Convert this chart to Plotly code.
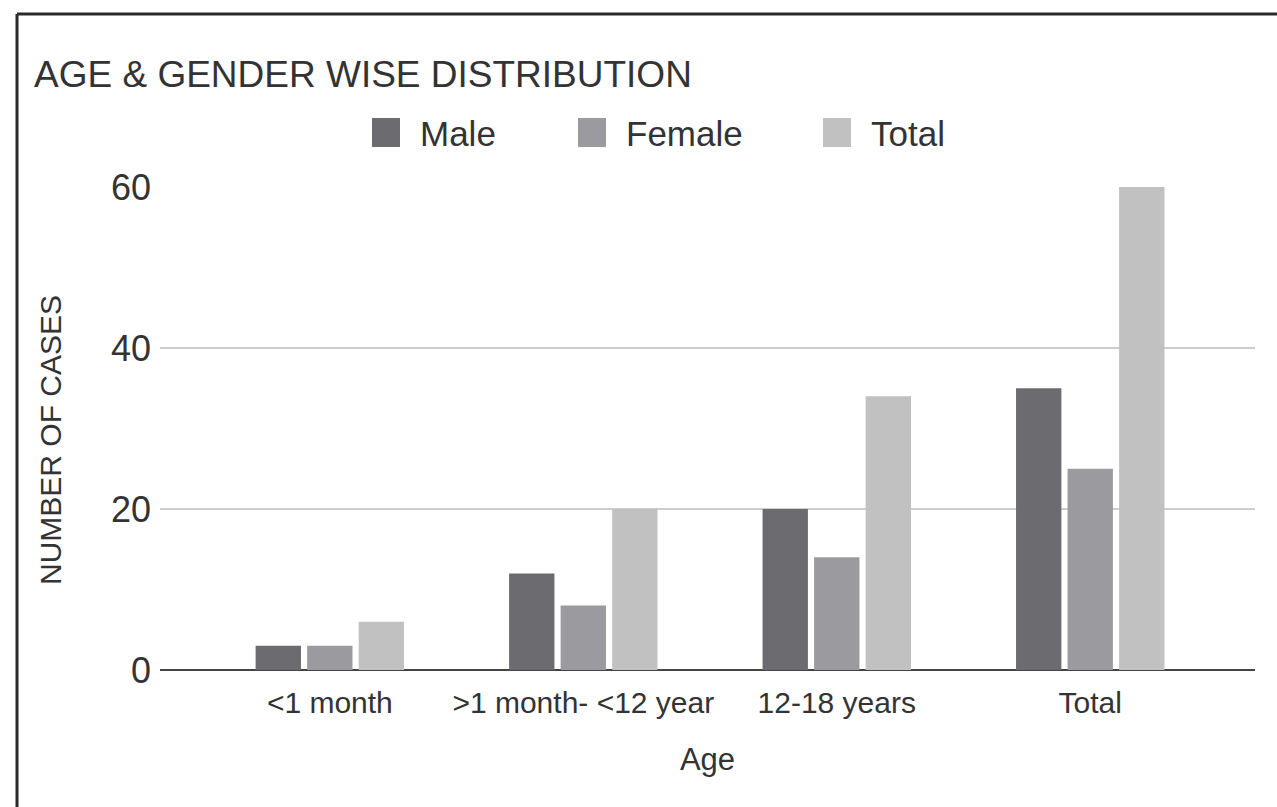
import plotly.graph_objects as go

# Age groups and case counts
categories = ["<1 month", ">1 month- <12 year", "12-18 years", "Total"]
male = [3, 12, 20, 35]
female = [3, 8, 14, 25]
total = [6, 20, 34, 60]

series_names = ["Male", "Female", "Total"]
series_values = [male, female, total]
series_colors = ["#6b6b70", "#9b9b9f", "#c1c1c1"]

y_ticks = [0, 20, 40, 60]

W, H = 1277, 807
ML, MR, MT, MB = 160, 22, 187, 137
PW, PH = W - ML - MR, H - MT - MB


def px_x(x):
    return (x - ML) / PW


def px_y(y):
    return 1 - (y - MT) / PH


FONT = "Liberation Sans, Arial, sans-serif"
TXT = "#333333"

fig = go.Figure()
for name, vals, col in zip(series_names, series_values, series_colors):
    fig.add_trace(go.Bar(x=categories, y=vals, name=name, marker_color=col,
                         marker_line_width=0, showlegend=False))

# Frame lines
shapes = [
    dict(type="line", xref="paper", yref="paper", x0=px_x(17), x1=px_x(W),
         y0=px_y(14), y1=px_y(14), line=dict(color="#2a2a2a", width=3)),
    dict(type="line", xref="paper", yref="paper", x0=px_x(17), x1=px_x(17),
         y0=px_y(14), y1=px_y(H), line=dict(color="#2a2a2a", width=3)),
]

# Legend row: swatch + label for each series
annotations = []
legend_swatch_x = [372, 578, 823]
for name, col, sx in zip(series_names, series_colors, legend_swatch_x):
    shapes.append(dict(type="rect", xref="paper", yref="paper",
                       x0=px_x(sx), x1=px_x(sx + 28), y0=px_y(147), y1=px_y(118),
                       fillcolor=col, line_width=0))
    annotations.append(dict(text=name, xref="paper", yref="paper",
                            x=px_x(sx + 46), y=px_y(133), xanchor="left",
                            yanchor="middle", showarrow=False,
                            font=dict(family=FONT, size=35, color=TXT)))

# Vertical axis title
annotations.append(dict(text="NUMBER OF CASES", xref="paper", yref="paper",
                        x=px_x(50), y=px_y(440), xanchor="center",
                        yanchor="middle", textangle=-90, showarrow=False,
                        font=dict(family=FONT, size=30, color=TXT)))

fig.update_layout(
    width=W, height=H,
    margin=dict(l=ML, r=MR, t=MT, b=MB, autoexpand=False),
    paper_bgcolor="white", plot_bgcolor="white",
    barmode="group", bargap=0.39, bargroupgap=0.12,
    title=dict(text="AGE & GENDER WISE DISTRIBUTION", xref="container",
               yref="container", x=34 / W, xanchor="left",
               y=1 - 74 / H, yanchor="middle",
               font=dict(family=FONT, size=37, color=TXT)),
    shapes=shapes,
    annotations=annotations,
    xaxis=dict(range=[-0.67, 3.65], showgrid=False, showline=False,
               zeroline=False, ticks="", automargin=False,
               ticklabelstandoff=12,
               tickfont=dict(family=FONT, size=30, color=TXT),
               title=dict(text="Age", standoff=30,
                          font=dict(family=FONT, size=31, color=TXT))),
    yaxis=dict(range=[0, 60], tickvals=y_ticks, showgrid=True,
               gridcolor="#cdcdcd", gridwidth=2, zeroline=True,
               zerolinecolor="#444444", zerolinewidth=2, showline=False,
               ticks="", ticklabelstandoff=8, automargin=False,
               tickfont=dict(family=FONT, size=36, color=TXT)),
)

fig.write_html("out.html")
